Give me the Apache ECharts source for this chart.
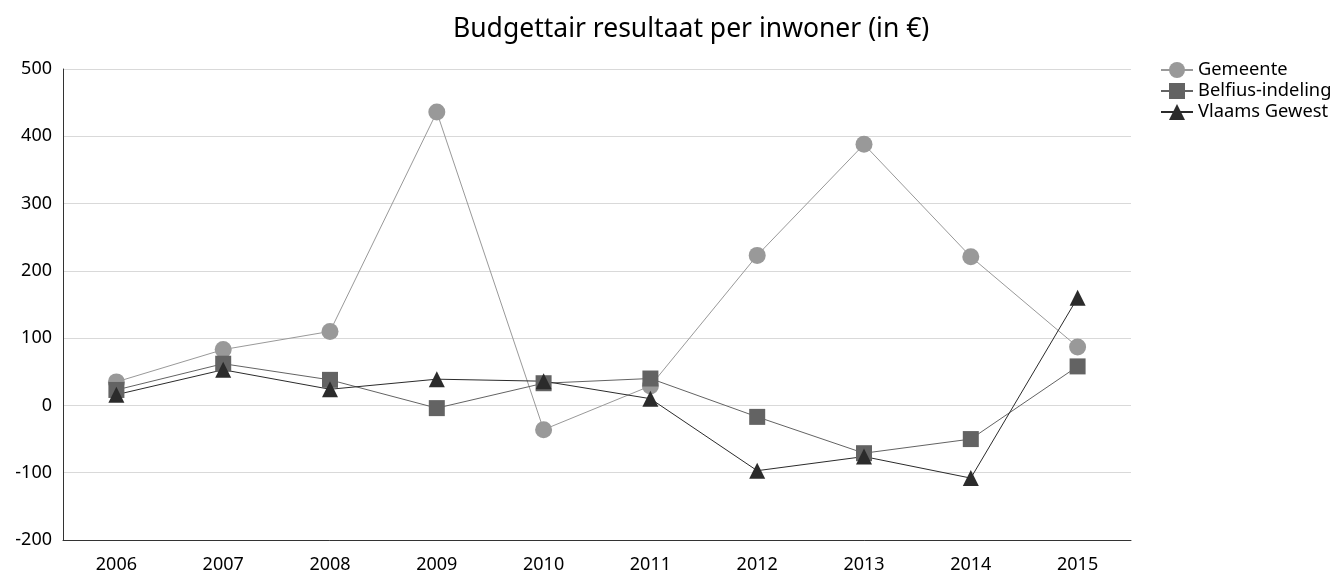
<!DOCTYPE html>
<html>
<head>
<meta charset="utf-8">
<script src="https://cdn.jsdelivr.net/npm/echarts@6/dist/echarts.min.js"></script>
<style>
html,body{margin:0;padding:0;background:#fff;}
#chart{width:1333px;height:574px;}
</style>
</head>
<body>
<div id="chart"></div>
<script>
const years = ['2006','2007','2008','2009','2010','2011','2012','2013','2014','2015'];
const gemeente = [35, 83, 110, 436, -36, 29, 223, 388, 221, 87];
const belfius = [23, 62, 38, -4, 33, 40, -17, -71, -50, 58];
const vlaams = [16, 53, 24, 39, 36, 10, -97, -76, -108, 160];
const seriesNames = ['Gemeente', 'Belfius-indeling', 'Vlaams Gewest'];

const FONT = 'Noto Sans';
const chart = echarts.init(document.getElementById('chart'));
chart.setOption({
  animation: false,
  backgroundColor: '#ffffff',
  textStyle: { fontFamily: FONT },
  title: {
    text: 'Budgettair resultaat per inwoner (in €)',
    left: 448, top: 11,
    textStyle: { fontFamily: FONT, fontSize: 26.5, fontWeight: 'normal', color: '#000' }
  },
  legend: {
    orient: 'vertical',
    left: 1155, top: 56,
    itemGap: 3, itemWidth: 32, itemHeight: 20,
    textStyle: { fontFamily: FONT, fontSize: 18.3, color: '#000' },
    data: seriesNames
  },
  grid: { left: 63, right: 202, top: 69, bottom: 33, containLabel: false },
  xAxis: {
    type: 'category',
    data: years,
    boundaryGap: true,
    axisLine: { onZero: false, lineStyle: { color: '#333', width: 1 } },
    axisTick: { show: false },
    axisLabel: { fontFamily: FONT, fontSize: 18, color: '#000', margin: 16 },
    splitLine: { show: false }
  },
  yAxis: {
    type: 'value',
    min: -200, max: 500, interval: 100,
    axisLine: { show: true, lineStyle: { color: '#333', width: 1 } },
    axisTick: { show: false },
    axisLabel: { fontFamily: FONT, fontSize: 18, color: '#000', margin: 11 },
    splitLine: { lineStyle: { color: '#d9d9d9', width: 1 } }
  },
  series: [
    {
      name: seriesNames[0], type: 'line', data: gemeente,
      symbol: 'circle', symbolSize: 17,
      itemStyle: { color: '#999999' },
      lineStyle: { color: '#999999', width: 1 }
    },
    {
      name: seriesNames[1], type: 'line', data: belfius,
      symbol: 'rect', symbolSize: 16,
      itemStyle: { color: '#636363' },
      lineStyle: { color: '#636363', width: 1 }
    },
    {
      name: seriesNames[2], type: 'line', data: vlaams,
      symbol: 'triangle', symbolSize: 16,
      itemStyle: { color: '#2b2b2b' },
      lineStyle: { color: '#2b2b2b', width: 1 }
    }
  ]
});
</script>
</body>
</html>
